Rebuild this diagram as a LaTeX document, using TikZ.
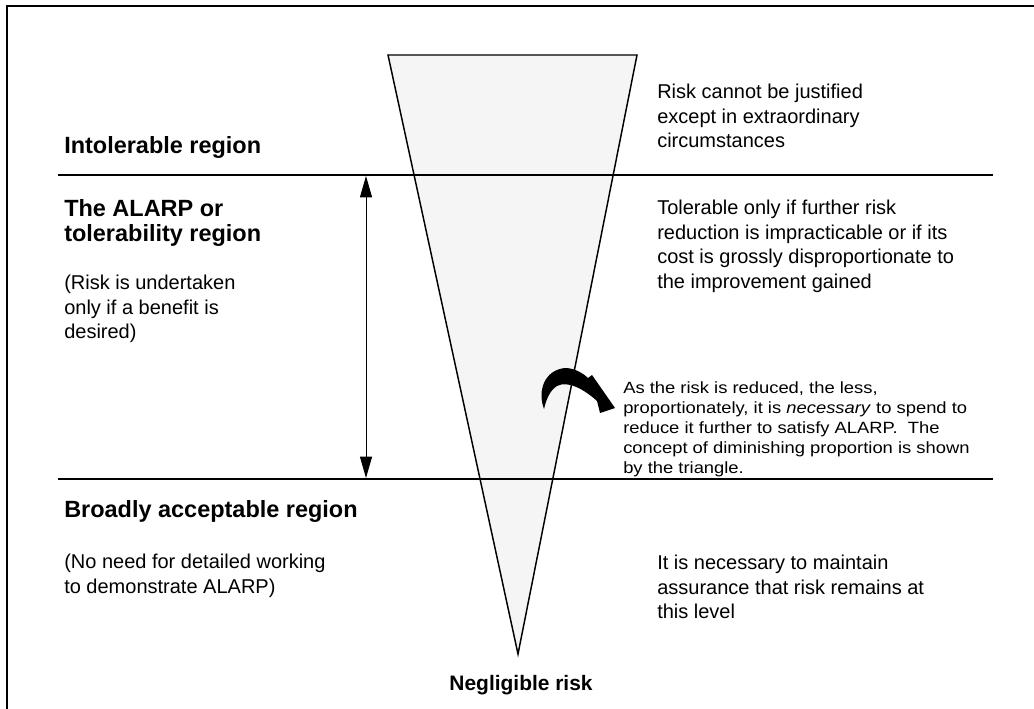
\documentclass[tikz,border=0pt]{standalone}
\usepackage{fontspec}
\setmainfont{Liberation Sans}
\newfontfamily\notefont[FakeStretch=1.13]{Liberation Sans}
\usetikzlibrary{arrows.meta}
\frenchspacing

\tikzset{
  region/.style={font=\bfseries\fontsize{17.6}{18.7}\selectfont, anchor=north west, inner sep=0pt, align=left},
  remark/.style={font=\fontsize{15}{18.4}\selectfont, anchor=north west, inner sep=0pt, align=left},
  note/.style={font=\notefont\fontsize{12.2}{15}\selectfont, anchor=north west, inner sep=0pt, align=left},
  boundary/.style={line width=1.5pt},
}

\begin{document}
\begin{tikzpicture}[x=0.75pt,y=-0.75pt]
  \useasboundingbox (0,0) rectangle (1034,709);
  % frame
  \draw[line width=1.5pt] (7,709) -- (7,6) -- (1034,6);

  % the risk triangle
  \coordinate (tl) at (388,55);
  \coordinate (tr) at (637,55);
  \coordinate (apex) at (518,654);
  \draw[line width=1.1pt, fill=black!4] (tl) -- (tr) -- (apex) -- cycle;

  % region boundaries
  \draw[boundary] (58,175) -- (993,175);
  \draw[boundary] (58,479) -- (993,479);

  % extent of the ALARP region
  \coordinate (alarptop) at (366,176);
  \coordinate (alarpbot) at (366,478);
  \draw[line width=0.75pt, {Triangle[length=16pt,width=9pt]}-{Triangle[length=16pt,width=9pt]}] (alarptop) -- (alarpbot);

  % curved arrow
  \fill (544,409) .. controls (537,390) and (545,370) .. (565,368)
    .. controls (575,368) and (584,374) .. (588,378) -- (592,375) -- (615,408) -- (600,413) -- (597,401)
    .. controls (585,390) and (568,380) .. (557,386)
    .. controls (550,390) and (546,400) .. (544,409) -- cycle;

  % left column
  \node[region] (intol) at (64,136) {Intolerable region};
  \node[region] (alarp) at (64,199) {The ALARP or\\tolerability region};
  \node[remark] (benefit) at (64,275) {(Risk is undertaken\\only if a benefit is\\desired)};
  \node[region] (broad) at (64,500) {Broadly acceptable region};
  \node[remark] (noneed) at (64,554) {(No need for detailed working\\to demonstrate ALARP)};
  \node[region, font=\bfseries\fontsize{15.7}{18}\selectfont, anchor=north] (neglig) at (521,675) {Negligible risk};

  % right column
  \node[remark] (justify) at (657,84) {Risk cannot be justified\\except in extraordinary\\circumstances};
  \node[remark] (tolerable) at (657,200) {Tolerable only if further risk\\reduction is impracticable or if its\\cost is grossly disproportionate to\\the improvement gained};
  \node[note] (reduced) at (623,381) {As the risk is reduced, the less,\\proportionately, it is \textit{necessary} to spend to\\reduce it further to satisfy ALARP.\ \ The\\concept of diminishing proportion is shown\\by the triangle.};
  \node[remark] (maintain) at (657,555) {It is necessary to maintain\\assurance that risk remains at\\this level};
\end{tikzpicture}
\end{document}
